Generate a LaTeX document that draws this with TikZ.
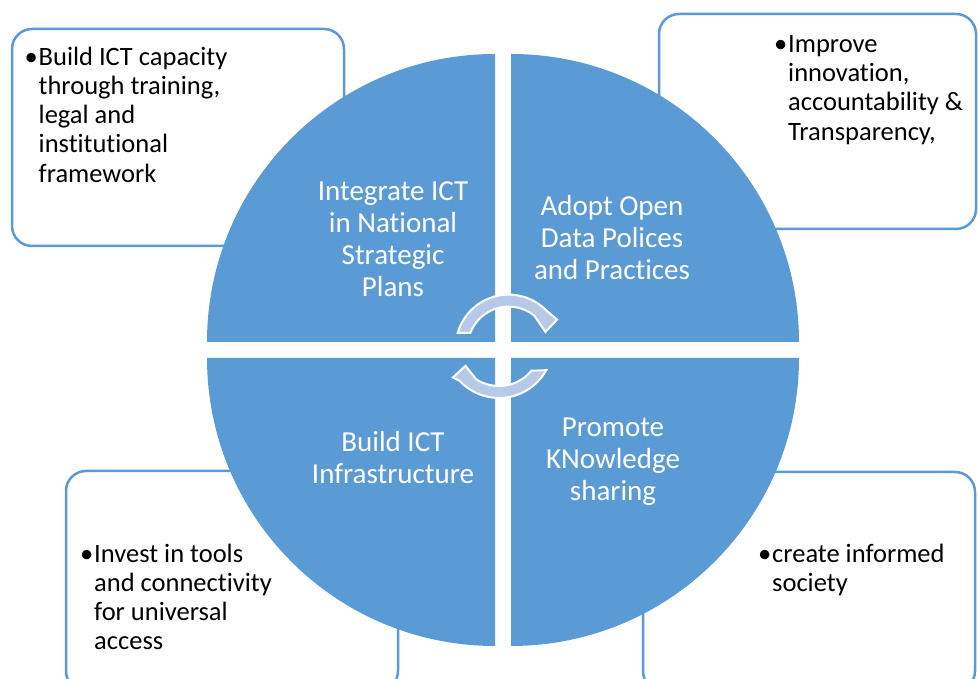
\documentclass[tikz,border=0pt]{standalone}
\usepackage{fontspec}
\setmainfont{Carlito}[Ligatures=NoCommon]

\definecolor{quadblue}{RGB}{91,155,213}
\definecolor{turnfill}{RGB}{183,201,232}

\tikzset{
	quad/.style={fill=quadblue},
	note/.style={draw=quadblue, line width=2.5pt, fill=white, rounded corners=20pt},
	quadtext/.style={text=white, align=center, font=\fontsize{29}{32}\selectfont},
	notetext/.style={anchor=north west, align=left, inner sep=0pt,
		font=\fontsize{26.5}{29.3}\selectfont},
	turn/.style={fill=turnfill, draw=white, line width=2pt, line join=miter}
}

\begin{document}
\begin{tikzpicture}[x=1pt,y=1pt]

		\useasboundingbox (0,0) rectangle (978,679);
		\clip (0,0) rectangle (978,679);

		% outer notes
		\draw[note] (12,433) rectangle (344,650);
		\draw[note] (659,450) rectangle (976,665);
		\draw[note] (66,-12) rectangle (398,208);
		\draw[note] (643,-12) rectangle (975,207);

		% four quarters
		\fill[quad] (495,337) -- (207,337) arc (180:90:288) -- cycle;
		\fill[quad] (511,337) -- (511,625) arc (90:0:288) -- cycle;
		\fill[quad] (495,321) -- (495,33) arc (270:180:288) -- cycle;
		\fill[quad] (511,321) -- (799,321) arc (0:-90:288) -- cycle;

		\node[quadtext] (integrate) at (393,440) {Integrate ICT\\in National\\Strategic\\Plans};
		\node[quadtext] (adopt) at (612,441) {Adopt Open\\Data Polices\\and Practices};
		\node[quadtext] (build) at (393,221.5) {Build ICT\\Infrastructure};
		\node[quadtext] (promote) at (613,217.5) {Promote\\KNowledge\\sharing};

		\node[notetext] (capacity) at (38.5,632.5)
			{\llap{•\hspace{1pt}}Build ICT capacity\\through training,\\legal and\\institutional\\framework};
		\node[notetext] (improve) at (788,644)
			{\llap{•\hspace{1pt}}Improve\\innovation,\\accountability \&\\Transparency,};
		\node[notetext] (invest) at (94,135.5)
			{\llap{•\hspace{1pt}}Invest in tools\\and connectivity\\for universal\\access};
		\node[notetext] (society) at (772,135.5)
			{\llap{•\hspace{1pt}}create informed\\society};

		% turning arrows
		\begin{scope}[shift={(508.6,331.4)}]
			\draw[turn] (164:53) arc (164:44:53) -- (30:56) -- (23:40) -- (51:41) arc (51:159:41) -- cycle;
		\end{scope}
		\begin{scope}[shift={(499,335)}]
			\draw[turn] (-29:54) arc (-29:-137:54) -- (-144:57) -- (-147:40) -- (-123:42) arc (-123:-39.5:42) -- cycle;
		\end{scope}

	\end{tikzpicture}
\end{document}
